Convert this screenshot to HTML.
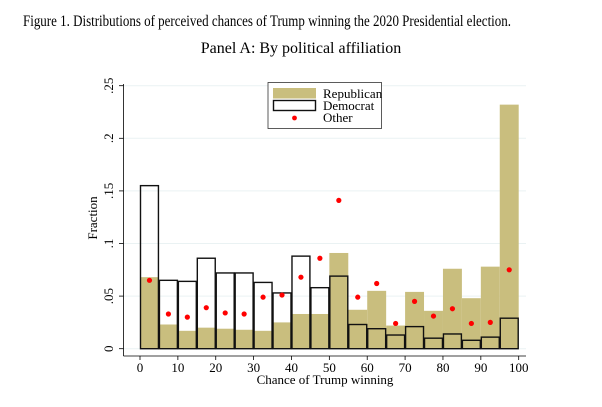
<!DOCTYPE html>
<html><head><meta charset="utf-8"><style>
html,body{margin:0;padding:0;background:#fff;}
svg{display:block;font-family:"Liberation Serif",serif;}
</style></head><body>
<svg id="s" width="602" height="407" viewBox="0 0 602 407" xmlns="http://www.w3.org/2000/svg">
<text x="267" y="26" font-size="16" text-anchor="middle" textLength="488" lengthAdjust="spacingAndGlyphs">Figure 1. Distributions of perceived chances of Trump winning the 2020 Presidential election.</text>
<text x="301" y="53" font-size="16" text-anchor="middle">Panel A: By political affiliation</text>
<g id="g"></g>
</svg>
<script>
var rep=[0.068,0.023,0.017,0.020,0.019,0.018,0.017,0.025,0.033,0.033,0.091,0.037,0.055,0.022,0.054,0.036,0.076,0.048,0.078,0.232];
var dem=[0.155,0.065,0.064,0.086,0.072,0.072,0.063,0.053,0.088,0.058,0.069,0.023,0.019,0.013,0.021,0.010,0.014,0.008,0.011,0.029];
var oth=[0.065,0.033,0.030,0.039,0.034,0.033,0.049,0.051,0.068,0.086,0.141,0.049,0.062,0.024,0.045,0.031,0.038,0.024,0.025,0.075];
function X(v){return 140+v*3.787;}
function Y(v){return 348.7-v*1052;}
var h='';
[0,0.05,0.1,0.15,0.2,0.25].forEach(function(t,i){
 var y=Y(t);
 h+='<line x1="123.5" x2="526" y1="'+y+'" y2="'+y+'" stroke="#eaf2f3" stroke-width="1"/>';
 h+='<line x1="119" x2="123.5" y1="'+y+'" y2="'+y+'" stroke="#000" stroke-width="0.8"/>';
 var lab=['0','.05','.1','.15','.2','.25'][i];
 h+='<text transform="translate(113,'+y+') rotate(-90)" font-size="13" text-anchor="middle">'+lab+'</text>';
});
for(var i=0;i<20;i++){
 var x0=X(i*5),w=X(5)-X(0);
 h+='<rect x="'+x0+'" y="'+Y(rep[i])+'" width="'+w+'" height="'+(Y(0)-Y(rep[i]))+'" fill="#c9be7e"/>';
}
for(var i=0;i<20;i++){
 var x0=X(i*5),w=X(5)-X(0);
 h+='<rect x="'+(x0+0.5)+'" y="'+Y(dem[i])+'" width="'+(w-1)+'" height="'+(Y(0)-Y(dem[i]))+'" fill="none" stroke="#111" stroke-width="1.4"/>';
}
for(var i=0;i<20;i++){
 h+='<circle cx="'+X(i*5+2.5)+'" cy="'+Y(oth[i])+'" r="2.6" fill="#f00"/>';
}
h+='<line x1="123.5" x2="123.5" y1="84" y2="356" stroke="#000" stroke-width="0.8"/>';
h+='<line x1="123.5" x2="526" y1="356" y2="356" stroke="#000" stroke-width="0.8"/>';
for(var v=0;v<=100;v+=10){
 var x=X(v);
 h+='<line x1="'+x+'" x2="'+x+'" y1="356" y2="360" stroke="#000" stroke-width="0.8"/>';
 h+='<text x="'+x+'" y="372" font-size="13" text-anchor="middle">'+v+'</text>';
}
h+='<text x="325" y="384" font-size="13" text-anchor="middle">Chance of Trump winning</text>';
h+='<text transform="translate(97,218) rotate(-90)" font-size="13" text-anchor="middle">Fraction</text>';
h+='<rect x="268" y="82.5" width="113.5" height="46" fill="#fff" stroke="#333" stroke-width="0.8"/>';
h+='<rect x="273" y="88" width="43" height="10.5" fill="#c9be7e"/>';
h+='<rect x="273.5" y="100.5" width="42" height="10" fill="#fff" stroke="#111" stroke-width="1.4"/>';
h+='<circle cx="294.5" cy="118" r="2.4" fill="#f00"/>';
h+='<text x="323" y="98" font-size="13">Republican</text>';
h+='<text x="323" y="110" font-size="13">Democrat</text>';
h+='<text x="323" y="122" font-size="13">Other</text>';
document.getElementById('g').innerHTML=h;
</script>
</body></html>
